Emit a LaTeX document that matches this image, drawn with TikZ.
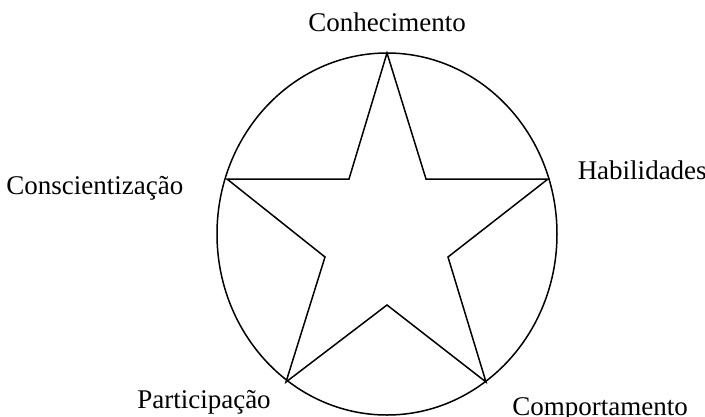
\documentclass[tikz,border=0pt]{standalone}
\usepackage{fontspec}
\setmainfont{Liberation Serif}
\usetikzlibrary{shapes.geometric}
\begin{document}
\begin{tikzpicture}[x=1pt,y=-1pt,line width=1.5pt,
  lbl/.style={inner sep=0pt,font=\fontsize{27}{30}\selectfont}]
\useasboundingbox (0,0) rectangle (705,416);
\node[draw,ellipse,minimum width=340pt,minimum height=362pt,inner sep=0pt] (ell) at (387,234) {};
\coordinate (p1) at (387,53);
\coordinate (i1) at (426,179);
\coordinate (p2) at (548,179);
\coordinate (i2) at (448,257);
\coordinate (p3) at (486,382);
\coordinate (i3) at (387,305);
\coordinate (p4) at (286,382);
\coordinate (i4) at (325,257);
\coordinate (p5) at (227,179);
\coordinate (i5) at (349,179);
\draw[line join=miter] (p1) -- (i1) -- (p2) -- (i2) -- (p3) -- (i3) -- (p4) -- (i4) -- (p5) -- (i5) -- cycle;
\node[lbl] (t1) at (387,22) {Conhecimento};
\node[lbl,anchor=west] (t2) at (577,170) {Habilidades};
\node[lbl,anchor=east] (t5) at (184,188) {Conscientização};
\node[lbl] (t4) at (204,402) {Participação};
\node[lbl] (t3) at (600,409) {Comportamento};
\end{tikzpicture}
\end{document}
